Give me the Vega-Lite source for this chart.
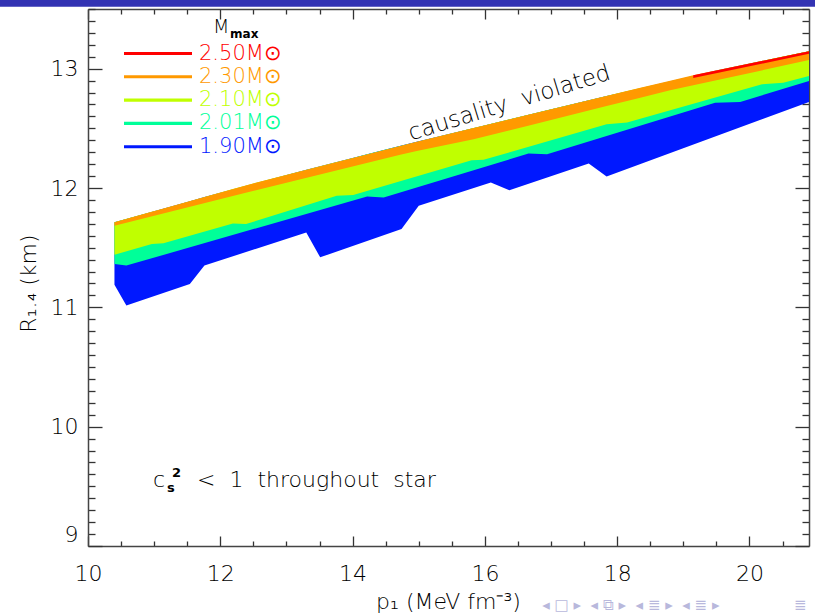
{
  "$schema": "https://vega.github.io/schema/vega-lite/v6.json",
  "width": 721,
  "height": 537,
  "autosize": {"type": "none"},
  "padding": {"left": 88, "top": 9, "right": 6, "bottom": 70},
  "background": "white",
  "config": {
    "font": "DejaVu Sans",
    "view": {"stroke": null},
    "text": {"font": "DejaVu Sans", "color": "black", "fontWeight": 200},
    "axis": {"zindex": 1, "grid": false, "domainColor": "#444", "domainWidth": 1.5, "tickColor": "#333", "tickWidth": 1.3, "labelColor": "black", "labelFont": "DejaVu Sans", "labelFontSize": 22, "labelFontWeight": 200, "titleFont": "DejaVu Sans", "titleFontSize": 22, "titleFontWeight": 200, "titleColor": "black"}
  },
  "datasets": {
    "bands": [
      {"mmax": "1.90", "x": 10.40, "lo": 11.19, "hi": 11.712},
      {"mmax": "1.90", "x": 10.58, "lo": 11.015, "hi": 11.740},
      {"mmax": "1.90", "x": 11.54, "lo": 11.196, "hi": 11.890},
      {"mmax": "1.90", "x": 11.76, "lo": 11.35, "hi": 11.924},
      {"mmax": "1.90", "x": 13.30, "lo": 11.628, "hi": 12.152},
      {"mmax": "1.90", "x": 13.51, "lo": 11.419, "hi": 12.182},
      {"mmax": "1.90", "x": 14.74, "lo": 11.656, "hi": 12.356},
      {"mmax": "1.90", "x": 15.00, "lo": 11.851, "hi": 12.391},
      {"mmax": "1.90", "x": 16.09, "lo": 12.046, "hi": 12.537},
      {"mmax": "1.90", "x": 16.37, "lo": 11.982, "hi": 12.574},
      {"mmax": "1.90", "x": 17.57, "lo": 12.205, "hi": 12.735},
      {"mmax": "1.90", "x": 17.84, "lo": 12.096, "hi": 12.772},
      {"mmax": "1.90", "x": 20.9, "lo": 12.721, "hi": 13.146},
      {"mmax": "2.01", "x": 10.40, "lo": 11.364, "hi": 11.712},
      {"mmax": "2.01", "x": 10.58, "lo": 11.350, "hi": 11.740},
      {"mmax": "2.01", "x": 14.22, "lo": 11.929, "hi": 12.282},
      {"mmax": "2.01", "x": 14.47, "lo": 11.921, "hi": 12.318},
      {"mmax": "2.01", "x": 16.66, "lo": 12.289, "hi": 12.613},
      {"mmax": "2.01", "x": 16.94, "lo": 12.283, "hi": 12.651},
      {"mmax": "2.01", "x": 19.48, "lo": 12.715, "hi": 12.982},
      {"mmax": "2.01", "x": 19.86, "lo": 12.721, "hi": 13.026},
      {"mmax": "2.01", "x": 20.9, "lo": 12.896, "hi": 13.146},
      {"mmax": "2.10", "x": 10.40, "lo": 11.441, "hi": 11.712},
      {"mmax": "2.10", "x": 10.965, "lo": 11.531, "hi": 11.800},
      {"mmax": "2.10", "x": 11.14, "lo": 11.536, "hi": 11.827},
      {"mmax": "2.10", "x": 12.19, "lo": 11.703, "hi": 11.991},
      {"mmax": "2.10", "x": 12.39, "lo": 11.698, "hi": 12.022},
      {"mmax": "2.10", "x": 13.76, "lo": 11.935, "hi": 12.217},
      {"mmax": "2.10", "x": 14.01, "lo": 11.941, "hi": 12.252},
      {"mmax": "2.10", "x": 15.80, "lo": 12.233, "hi": 12.498},
      {"mmax": "2.10", "x": 15.98, "lo": 12.236, "hi": 12.522},
      {"mmax": "2.10", "x": 17.84, "lo": 12.534, "hi": 12.772},
      {"mmax": "2.10", "x": 18.15, "lo": 12.548, "hi": 12.813},
      {"mmax": "2.10", "x": 20.19, "lo": 12.869, "hi": 13.064},
      {"mmax": "2.10", "x": 20.51, "lo": 12.882, "hi": 13.101},
      {"mmax": "2.10", "x": 20.9, "lo": 12.938, "hi": 13.146},
      {"mmax": "2.30", "x": 10.40, "lo": 11.684, "hi": 11.712},
      {"mmax": "2.30", "x": 12.40, "lo": 11.962, "hi": 12.024},
      {"mmax": "2.30", "x": 14.72, "lo": 12.278, "hi": 12.353},
      {"mmax": "2.30", "x": 14.97, "lo": 12.311, "hi": 12.387},
      {"mmax": "2.30", "x": 15.83, "lo": 12.409, "hi": 12.502},
      {"mmax": "2.30", "x": 16.64, "lo": 12.520, "hi": 12.611},
      {"mmax": "2.30", "x": 17.54, "lo": 12.645, "hi": 12.731},
      {"mmax": "2.30", "x": 17.84, "lo": 12.687, "hi": 12.772},
      {"mmax": "2.30", "x": 18.35, "lo": 12.756, "hi": 12.840},
      {"mmax": "2.30", "x": 18.80, "lo": 12.819, "hi": 12.899},
      {"mmax": "2.30", "x": 19.15, "lo": 12.860, "hi": 12.944},
      {"mmax": "2.30", "x": 20.9, "lo": 13.072, "hi": 13.146},
      {"mmax": "2.50", "x": 19.15, "lo": 12.922, "hi": 12.944},
      {"mmax": "2.50", "x": 20.9, "lo": 13.124, "hi": 13.146}
    ]
  },
  "layer": [
    {
      "data": {"values": [{}]},
      "mark": {"type": "rect", "color": "#3333B3"},
      "encoding": {
        "x": {"datum": 8.6, "type": "quantitative", "axis": null},
        "x2": {"datum": 22.2},
        "y": {"datum": 13.518, "type": "quantitative", "axis": null},
        "y2": {"datum": 13.6}
      }
    },
    {
      "data": {"name": "bands"},
      "mark": {"type": "area", "interpolate": "linear", "opacity": 1},
      "encoding": {
        "x": {
          "field": "x", "type": "quantitative",
          "scale": {"domain": [10, 20.9], "nice": false, "zero": false},
          "axis": {
            "orient": "bottom",
            "values": [10, 10.5, 11, 11.5, 12, 12.5, 13, 13.5, 14, 14.5, 15, 15.5, 16, 16.5, 17, 17.5, 18, 18.5, 19, 19.5, 20, 20.5],
            "tickSize": {"condition": {"test": "datum.value % 2 === 0", "value": -10}, "value": -5},
            "labelExpr": "datum.value % 2 === 0 ? format(datum.value, 'd') : ''",
            "labelPadding": 27,
            "labelFlush": false,
            "title": "p₁ (MeV fm⁻³)",
            "titleX": 360,
            "titleY": 62,
            "titleAlign": "center",
            "titleBaseline": "alphabetic"
          }
        },
        "y": {
          "field": "lo", "type": "quantitative",
          "scale": {"domain": [9, 13.5], "nice": false, "zero": false},
          "axis": {
            "orient": "left",
            "values": [9, 9.1, 9.2, 9.3, 9.4, 9.5, 9.6, 9.7, 9.8, 9.9, 10, 10.1, 10.2, 10.3, 10.4, 10.5, 10.6, 10.7, 10.8, 10.9, 11, 11.1, 11.2, 11.3, 11.4, 11.5, 11.6, 11.7, 11.8, 11.9, 12, 12.1, 12.2, 12.3, 12.4, 12.5, 12.6, 12.7, 12.8, 12.9, 13, 13.1, 13.2, 13.3, 13.4, 13.5],
            "tickSize": {"condition": {"test": "abs(datum.value - round(datum.value)) < 0.001", "value": -14}, "value": -7},
            "labelExpr": "abs(datum.value - round(datum.value)) < 0.001 ? format(datum.value, 'd') : ''",
            "labelPadding": 24,
            "labelFlush": true,
            "title": "R₁.₄ (km)",
            "titleX": -60,
            "titleY": 274,
            "titleAngle": -90,
            "titleAlign": "center",
            "titleBaseline": "middle"
          }
        },
        "y2": {"field": "hi"},
        "color": {
          "field": "mmax", "type": "nominal",
          "scale": {"domain": ["2.50", "2.30", "2.10", "2.01", "1.90"], "range": ["#FF0000", "#FF9900", "#C0FF00", "#00FF99", "#0018FF"]},
          "legend": {
            "orient": "none",
            "legendX": 59.5,
            "legendY": 34,
            "title": null,
            "padding": 0,
            "symbolType": "M-4,-0.18H4V0.18H-4Z",
            "symbolSize": 289,
            "symbolOpacity": 1,
            "symbolStrokeWidth": 0,
            "labelFont": "DejaVu Sans",
            "labelFontSize": 21,
            "labelFontWeight": 200,
            "labelOffset": 30.5,
            "rowPadding": 1.3,
            "labelExpr": "datum.label + 'M⊙'",
            "labelColor": {"expr": "scale('color', datum.value)"}
          }
        }
      }
    },
    {
      "data": {"values": [{}]},
      "mark": {"type": "text", "fontSize": 23, "angle": 343, "align": "center", "baseline": "middle"},
      "encoding": {
        "x": {"datum": 16.37, "type": "quantitative", "axis": {"orient": "top", "values": [10, 10.5, 11, 11.5, 12, 12.5, 13, 13.5, 14, 14.5, 15, 15.5, 16, 16.5, 17, 17.5, 18, 18.5, 19, 19.5, 20, 20.5], "tickSize": {"condition": {"test": "datum.value % 2 === 0", "value": -10}, "value": -5}, "labels": false, "title": null}},
        "y": {"datum": 12.712, "type": "quantitative", "axis": {"orient": "right", "values": [9, 9.1, 9.2, 9.3, 9.4, 9.5, 9.6, 9.7, 9.8, 9.9, 10, 10.1, 10.2, 10.3, 10.4, 10.5, 10.6, 10.7, 10.8, 10.9, 11, 11.1, 11.2, 11.3, 11.4, 11.5, 11.6, 11.7, 11.8, 11.9, 12, 12.1, 12.2, 12.3, 12.4, 12.5, 12.6, 12.7, 12.8, 12.9, 13, 13.1, 13.2, 13.3, 13.4, 13.5], "tickSize": {"condition": {"test": "abs(datum.value - round(datum.value)) < 0.001", "value": -14}, "value": -7}, "labels": false, "title": null}},
        "text": {"value": "causality\u00a0 violated"}
      }
    },
    {
      "data": {"values": [{}]},
      "mark": {"type": "text", "fontSize": 22, "align": "left", "baseline": "alphabetic"},
      "encoding": {"x": {"datum": 10.984, "type": "quantitative", "axis": null}, "y": {"datum": 9.496, "type": "quantitative", "axis": null}, "text": {"value": "c"}}
    },
    {
      "data": {"values": [{}]},
      "mark": {"type": "text", "fontSize": 13, "fontWeight": "bold", "align": "left", "baseline": "alphabetic", "dx": 14, "dy": 5},
      "encoding": {"x": {"datum": 10.984, "type": "quantitative", "axis": null}, "y": {"datum": 9.496, "type": "quantitative", "axis": null}, "text": {"value": "s"}}
    },
    {
      "data": {"values": [{}]},
      "mark": {"type": "text", "fontSize": 13, "fontWeight": "bold", "align": "left", "baseline": "alphabetic", "dx": 19, "dy": -10},
      "encoding": {"x": {"datum": 10.984, "type": "quantitative", "axis": null}, "y": {"datum": 9.496, "type": "quantitative", "axis": null}, "text": {"value": "2"}}
    },
    {
      "data": {"values": [{}]},
      "mark": {"type": "text", "fontSize": 22, "align": "left", "baseline": "alphabetic", "dx": 44},
      "encoding": {"x": {"datum": 10.984, "type": "quantitative", "axis": null}, "y": {"datum": 9.496, "type": "quantitative", "axis": null}, "text": {"value": "<\u00a0 1\u00a0 throughout\u00a0 star"}}
    },
    {
      "data": {"values": [{}]},
      "mark": {"type": "text", "fontSize": 19, "align": "left", "baseline": "alphabetic"},
      "encoding": {"x": {"datum": 11.891, "type": "quantitative", "axis": null}, "y": {"datum": 13.30, "type": "quantitative", "axis": null}, "text": {"value": "M"}}
    },
    {
      "data": {"values": [{}]},
      "mark": {"type": "text", "fontSize": 12, "fontWeight": "bold", "align": "left", "baseline": "alphabetic", "dx": 17, "dy": 5},
      "encoding": {"x": {"datum": 11.891, "type": "quantitative", "axis": null}, "y": {"datum": 13.30, "type": "quantitative", "axis": null}, "text": {"value": "max"}}
    },
    {
      "data": {"values": [{}]},
      "mark": {"type": "text", "fontSize": 15, "fontWeight": "normal", "align": "left", "baseline": "middle", "color": "#B8B8DC"},
      "encoding": {"x": {"datum": 16.866, "type": "quantitative", "axis": null}, "y": {"datum": 8.507, "type": "quantitative", "axis": null}, "text": {"value": "◂\u00a0□\u00a0▸\u00a0\u00a0◂\u00a0⧉\u00a0▸\u00a0\u00a0◂\u00a0≣\u00a0▸\u00a0\u00a0◂\u00a0≣\u00a0▸"}}
    },
    {
      "data": {"values": [{}]},
      "mark": {"type": "text", "fontSize": 15, "fontWeight": "normal", "align": "center", "baseline": "middle", "color": "#B8B8DC"},
      "encoding": {"x": {"datum": 20.77, "type": "quantitative", "axis": null}, "y": {"datum": 8.507, "type": "quantitative", "axis": null}, "text": {"value": "≣"}}
    }
  ],
  "resolve": {"axis": {"x": "independent", "y": "independent"}}
}
